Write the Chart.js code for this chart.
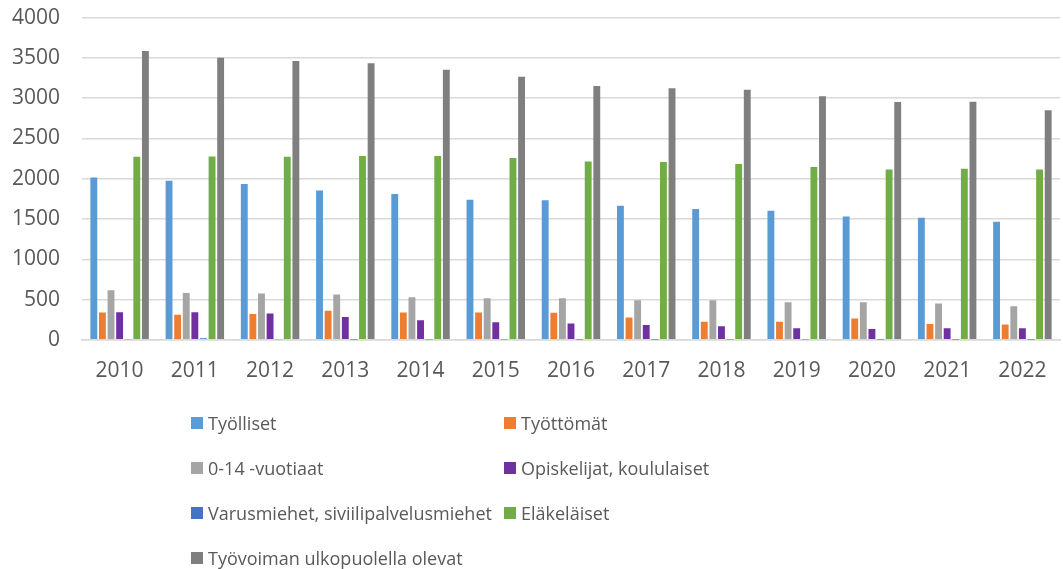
<!DOCTYPE html>
<html>
<head>
<meta charset="utf-8">
<script src="https://cdn.jsdelivr.net/npm/chart.js@4/dist/chart.umd.min.js"></script>
<style>
  body { margin: 0; background: #fff; overflow: hidden; }
  #wrap { position: relative; width: 1063px; height: 569px; overflow: hidden; font-family: "Open Sans", sans-serif; }
  #chartBox { position: absolute; left: 0; top: -17px; width: 1063px; height: 418px; }
  #legend { position: absolute; left: 191px; top: 400px; display: grid;
            grid-template-columns: 313px 300px; grid-auto-rows: 45px; }
  .item { display: flex; align-items: center; font-size: 18px; color: #595959; white-space: nowrap; }
  .box { width: 12px; height: 12px; margin-right: 5px; flex: none; }
</style>
</head>
<body>
<div id="wrap">
  <div id="chartBox"><canvas id="chart"></canvas></div>
  <div id="legend"></div>
</div>
<script>
// DATA
const years = ["2010","2011","2012","2013","2014","2015","2016","2017","2018","2019","2020","2021","2022"];

const tyolliset   = [2015, 1975, 1935, 1852, 1810, 1740, 1732, 1665, 1625, 1602, 1532, 1515, 1466];
const tyottomat   = [339, 311, 319, 360, 339, 339, 335, 277, 224, 224, 265, 195, 190];
const nuoret      = [615, 582, 574, 562, 528, 516, 516, 491, 491, 466, 466, 450, 416];
const opiskelijat = [342, 342, 326, 284, 242, 217, 201, 184, 168, 143, 134, 143, 143];
const varusmiehet = [8, 18, 6, 2, 4, 3, 2, 2, 3, 3, 2, 2, 2];
const elakelaiset = [2272, 2277, 2272, 2281, 2281, 2256, 2215, 2206, 2181, 2144, 2115, 2123, 2115];
const ulkopuoliset = [3586, 3503, 3462, 3433, 3354, 3267, 3151, 3122, 3105, 3023, 2952, 2956, 2849];

const seriesNames = ["Työlliset", "Työttömät", "0-14 -vuotiaat", "Opiskelijat, koululaiset",
                     "Varusmiehet, siviilipalvelusmiehet", "Eläkeläiset", "Työvoiman ulkopuolella olevat"];
const seriesData = [tyolliset, tyottomat, nuoret, opiskelijat, varusmiehet, elakelaiset, ulkopuoliset];
const colors = ["#5B9BD5", "#ED7D31", "#A5A5A5", "#7030A0", "#4472C4", "#70AD47", "#7F7F7F"];

const datasets = seriesNames.map((name, i) => ({
    label: name,
    data: seriesData[i],
    backgroundColor: colors[i],
    barPercentage: 0.8,
    categoryPercentage: 0.8
}));

const font = { family: "'Open Sans', sans-serif", size: 21 };

new Chart(document.getElementById("chart"), {
    type: "bar",
    data: { labels: years, datasets: datasets },
    options: {
        responsive: true,
        maintainAspectRatio: false,
        animation: false,
        layout: { padding: { top: 6, right: 3, bottom: 6, left: 0 } },
        plugins: {
            legend: { display: false },
            tooltip: { enabled: false }
        },
        scales: {
            x: {
                grid: { display: false },
                border: { color: "#d9d9d9", width: 1.5 },
                ticks: { color: "#595959", font: font, padding: 11, maxRotation: 0 }
            },
            y: {
                min: 0,
                max: 4000,
                afterFit: s => { s.width = 82; },
                grid: { color: "#d9d9d9", lineWidth: 1.5, drawTicks: false },
                border: { display: false },
                ticks: { stepSize: 500, color: "#595959", font: font, padding: 22,
                         callback: v => String(v) }
            }
        }
    }
});

// HTML legend, two columns
const legend = document.getElementById("legend");
seriesNames.forEach((name, i) => {
    legend.innerHTML += `
        <div class="item"><span class="box" style="background:${colors[i]}"></span>${name}</div>
    `;
});
</script>
</body>
</html>
